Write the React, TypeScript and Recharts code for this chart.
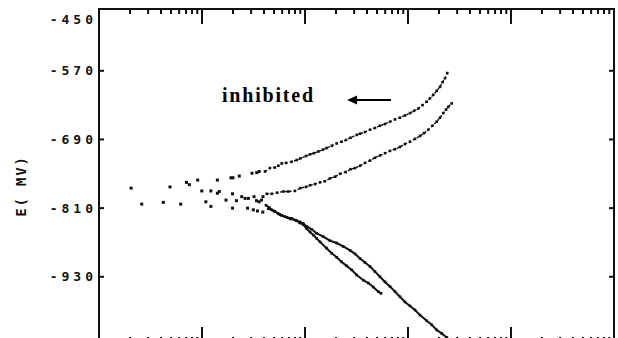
import React from 'react';
import { ComposedChart, Scatter, XAxis, YAxis, ReferenceLine, ReferenceDot } from 'recharts';

const INK = '#111111';

// Layout
const CHART_W = 610;
const CHART_H = 340;
const MARGIN = { top: 1, right: 4, bottom: 5, left: 0 };
const Y_AXIS_W = 91;
const X_AXIS_H = 1;
const Y_TICK_SIZE = -5;
const Y_TICK_MARGIN = 7;
const PLOT_W = CHART_W - MARGIN.left - MARGIN.right - Y_AXIS_W;
const PLOT_H = CHART_H - MARGIN.top - MARGIN.bottom - X_AXIS_H;

// Axis settings (current density in µA/cm², log scale; potential in mV)
const X_DOMAIN: [number, number] = [0.1, 10000];
const Y_DOMAIN: [number, number] = [-1044, -462];
const MAJOR_TICKS = [1, 10, 100, 1000];
const DECADE_STARTS = [0.1, 1, 10, 100, 1000];
const MINOR_MULTS = [2, 3, 4, 5, 6, 7, 8, 9];
const Y_TICKS = [-462, -570, -690, -810, -930];
const Y_TICK_LABELS = ['-450', '-570', '-690', '-810', '-930'];
const Y_LABEL = 'E( MV)';
const NOTE_TEXT = 'inhibited';
const NOTE_POS: [number, number] = [4.42, -624];
const ARROW_FROM: [number, number] = [68.4, -621];
const ARROW_TO: [number, number] = [25.6, -621];

// Scattered points around the corrosion potential [i, E]
const ECORR_POINTS: [number, number][] = [
  [0.205, -775], [0.26, -803], [0.421, -800], [0.489, -773], [0.621, -803],
  [0.707, -765], [0.753, -769], [0.908, -761], [0.995, -780], [1.09, -799],
  [1.22, -780], [1.22, -807], [1.41, -761], [1.41, -784], [1.47, -781],
  [1.71, -796], [1.91, -757], [2.0, -757], [1.98, -785], [1.98, -810],
  [2.16, -797], [2.3, -754], [2.43, -790], [2.62, -793], [2.82, -793],
  [2.77, -810], [3.15, -813], [3.46, -815], [3.06, -749], [3.4, -748],
  [3.59, -746], [3.2, -790], [3.38, -797], [3.58, -799], [3.78, -796],
  [3.89, -817], [3.91, -790],
];

// Upper anodic branch
const ANODIC_A: [number, number][] = [
  [4.09, -746], [4.57, -740], [5.11, -739], [5.51, -736], [5.94, -732],
  [6.54, -731], [7.43, -729], [8.31, -726], [9.04, -723], [10.2, -719],
  [11.2, -716], [12.2, -714], [13.5, -711], [14.9, -708], [16.2, -705],
  [18.2, -701], [20.3, -697], [22.7, -694], [25.0, -691], [27.7, -687],
  [31.8, -682], [34.2, -680], [38.2, -677], [42.8, -673], [47.8, -670],
  [53.5, -666], [59.8, -663], [66.9, -659], [74.8, -655], [83.6, -652],
  [93.5, -648], [104.6, -644], [114.4, -640], [125.9, -636], [138.3, -630],
  [152, -624], [163.5, -618], [176.1, -612], [190, -605], [204.5, -598],
  [216.3, -590], [228.7, -583], [240.7, -574],
];

// Lower anodic branch
const ANODIC_B: [number, number][] = [
  [4.25, -785], [4.75, -785], [5.38, -783], [6.16, -781], [6.89, -781],
  [8.0, -780], [9.04, -775], [10.2, -773], [11.2, -770], [12.5, -768],
  [14.0, -765], [15.6, -763], [17.5, -758], [19.6, -755], [21.9, -750],
  [24.8, -747], [27.7, -742], [30.6, -740], [34.2, -736], [38.2, -731],
  [42.8, -727], [47.8, -722], [53.5, -718], [59.8, -714], [66.9, -710],
  [74.8, -707], [83.6, -703], [93.5, -698], [104.6, -694], [116.9, -689],
  [130.8, -684], [143, -679], [157.4, -673], [172.9, -666], [190, -659],
  [204.5, -652], [220.1, -644], [233.9, -638], [246.2, -633], [265.7, -627],
];

// Longer cathodic branch
const CATHODIC_D: [number, number][] = [
  [4.18, -805], [4.5, -809], [4.75, -813], [5.11, -816], [5.51, -820],
  [5.94, -823], [6.64, -826], [7.43, -828], [8.31, -832], [8.94, -834],
  [9.63, -837], [10.39, -842], [11.61, -847], [12.99, -854], [15.06, -860],
  [17.5, -867], [20.3, -871], [23.5, -877], [27.4, -884], [30.6, -890],
  [34.2, -898], [38.2, -905], [42.8, -912], [47.8, -921], [53.5, -930],
  [59.8, -939], [66.9, -947], [74.8, -956], [83.6, -965], [93.5, -974],
  [104.6, -981], [116.9, -988], [130.8, -997], [152, -1007], [169.9, -1014],
  [190, -1023], [212.4, -1029], [237.5, -1036], [261.5, -1042],
];

// Shorter cathodic branch
const CATHODIC_C: [number, number][] = [
  [4.4, -811], [5.0, -815], [5.7, -821], [6.4, -825], [7.2, -829],
  [8.1, -831], [8.9, -836], [9.63, -839], [10.39, -846], [11.2, -852],
  [12.04, -857], [12.99, -863], [14.0, -869], [16.2, -880], [18.2, -889],
  [20.3, -896], [22.7, -904], [25.4, -911], [28.4, -918], [31.8, -927],
  [36.8, -936], [41.2, -941], [46.0, -948], [51.5, -956], [54.7, -959],
];

const MINOR_TICKS = DECADE_STARTS.flatMap((d) => MINOR_MULTS.map((m) => Number((d * m).toPrecision(3))));
const ALL_X_TICKS = [...MAJOR_TICKS, ...MINOR_TICKS].sort((a, b) => a - b);

const toRows = (pts: [number, number][]) => pts.map(([i, e]) => ({ i, e }));

const square = (size: number) => (props: any) => {
  const { cx, cy } = props;
  if (cx == null || cy == null) return <g />;
  return <rect x={cx - size / 2} y={cy - size / 2} width={size} height={size} fill={INK} />;
};

// Inward log ticks: drawn on the bottom edge and mirrored on the top edge of the frame
const XTick = (props: any) => {
  const { x, y, payload } = props;
  const major = MAJOR_TICKS.includes(payload.value);
  const len = major ? 15 : 5;
  const top = y - PLOT_H;
  return (
    <g>
      <line x1={x} y1={y} x2={x} y2={y - len} stroke={INK} strokeWidth={2} />
      <line x1={x} y1={top} x2={x} y2={top + len} stroke={INK} strokeWidth={2} />
    </g>
  );
};

// Y tick label; also draws the matching inward tick on the right frame
// (the top tick draws the top and right frame lines)
const YTick = (props: any) => {
  const { x, y, payload } = props;
  const idx = Y_TICKS.indexOf(payload.value);
  const label = idx >= 0 ? Y_TICK_LABELS[idx] : String(payload.value);
  const shift = idx === 0 ? 10 : 0;
  const axisX = x + Y_TICK_MARGIN + Y_TICK_SIZE;
  const rightX = axisX + PLOT_W;
  return (
    <g>
      {idx === 0 ? (
        <g>
          <line x1={axisX} y1={y} x2={rightX} y2={y} stroke={INK} strokeWidth={2} strokeLinecap="square" />
          <line x1={rightX} y1={y} x2={rightX} y2={y + PLOT_H} stroke={INK} strokeWidth={2} strokeLinecap="square" />
        </g>
      ) : (
        <line x1={rightX} y1={y} x2={rightX - 5} y2={y} stroke={INK} strokeWidth={2} />
      )}
      <text
        x={x}
        y={y + shift}
        dy="0.36em"
        textAnchor="end"
        fill={INK}
        fontFamily="DejaVu Sans Mono"
        fontWeight="bold"
        fontSize={13}
        letterSpacing={4}
      >
        {label}
      </text>
    </g>
  );
};

const YLabel = (props: any) => {
  const vb = props.viewBox || {};
  const cx = vb.x + 13;
  const cy = vb.y + vb.height / 2 + 10.5;
  return (
    <text
      x={cx}
      y={cy}
      dy="0.36em"
      textAnchor="middle"
      transform={`rotate(-90, ${cx}, ${cy})`}
      fill={INK}
      fontFamily="DejaVu Sans Mono"
      fontWeight="bold"
      fontSize={14}
      letterSpacing={1.8}
    >
      {Y_LABEL}
    </text>
  );
};

const NoteLabel = (props: any) => {
  const vb = props.viewBox || {};
  return (
    <text
      x={vb.x}
      y={vb.y}
      textAnchor="middle"
      fill="#000"
      fontFamily="Liberation Serif"
      fontWeight="bold"
      fontSize={20}
      letterSpacing={1.8}
    >
      {NOTE_TEXT}
    </text>
  );
};

const ArrowShape = (props: any) => {
  const { x1, y1, x2, y2 } = props;
  return (
    <g>
      <line x1={x1} y1={y1} x2={x2 + 6} y2={y2} stroke="#000" strokeWidth={2} />
      <polygon points={`${x2},${y2} ${x2 + 10},${y2 - 4.5} ${x2 + 10},${y2 + 4.5}`} fill="#000" />
    </g>
  );
};

const AX = { xAxisId: 'bottom', yAxisId: 'left' };

export default function App() {
  return (
    <div style={{ position: 'fixed', left: 8, top: 8, width: 610, height: 330, overflow: 'hidden', background: '#fff' }}>
      <ComposedChart width={CHART_W} height={CHART_H} margin={MARGIN}>
        <XAxis
          xAxisId="bottom"
          orientation="bottom"
          dataKey="i"
          type="number"
          scale="log"
          domain={X_DOMAIN}
          allowDataOverflow
          ticks={ALL_X_TICKS}
          interval={0}
          height={X_AXIS_H}
          tickSize={0}
          tickMargin={0}
          tick={<XTick />}
          tickLine={false}
          axisLine={{ stroke: INK, strokeWidth: 2 }}
        />
        <YAxis
          yAxisId="left"
          type="number"
          domain={Y_DOMAIN}
          allowDataOverflow
          ticks={Y_TICKS}
          interval={0}
          width={Y_AXIS_W}
          tickSize={Y_TICK_SIZE}
          tickMargin={Y_TICK_MARGIN}
          tick={<YTick />}
          axisLine={{ stroke: INK, strokeWidth: 2 }}
          tickLine={{ stroke: INK, strokeWidth: 2 }}
          label={<YLabel />}
        />

        <Scatter name="ecorr" data={toRows(ECORR_POINTS)} dataKey="e" {...AX} shape={square(3)} isAnimationActive={false} />
        <Scatter
          name="anodicA"
          data={toRows(ANODIC_A)}
          dataKey="e"
          {...AX}
          shape={square(2.6)}
          line={{ stroke: INK, strokeWidth: 1.4, strokeDasharray: '2.5 2' }}
          isAnimationActive={false}
        />
        <Scatter
          name="anodicB"
          data={toRows(ANODIC_B)}
          dataKey="e"
          {...AX}
          shape={square(2.6)}
          line={{ stroke: INK, strokeWidth: 1.4, strokeDasharray: '2.5 2' }}
          isAnimationActive={false}
        />
        <Scatter
          name="cathodicC"
          data={toRows(CATHODIC_C)}
          dataKey="e"
          {...AX}
          shape={square(2.6)}
          line={{ stroke: INK, strokeWidth: 2 }}
          isAnimationActive={false}
        />
        <Scatter
          name="cathodicD"
          data={toRows(CATHODIC_D)}
          dataKey="e"
          {...AX}
          shape={square(2.6)}
          line={{ stroke: INK, strokeWidth: 2 }}
          isAnimationActive={false}
        />

        <ReferenceLine
          {...AX}
          segment={[
            { x: ARROW_FROM[0], y: ARROW_FROM[1] },
            { x: ARROW_TO[0], y: ARROW_TO[1] },
          ]}
          stroke="#000"
          shape={ArrowShape}
        />
        <ReferenceDot {...AX} x={NOTE_POS[0]} y={NOTE_POS[1]} r={0} stroke="none" fill="none" label={<NoteLabel />} />
      </ComposedChart>
    </div>
  );
}
